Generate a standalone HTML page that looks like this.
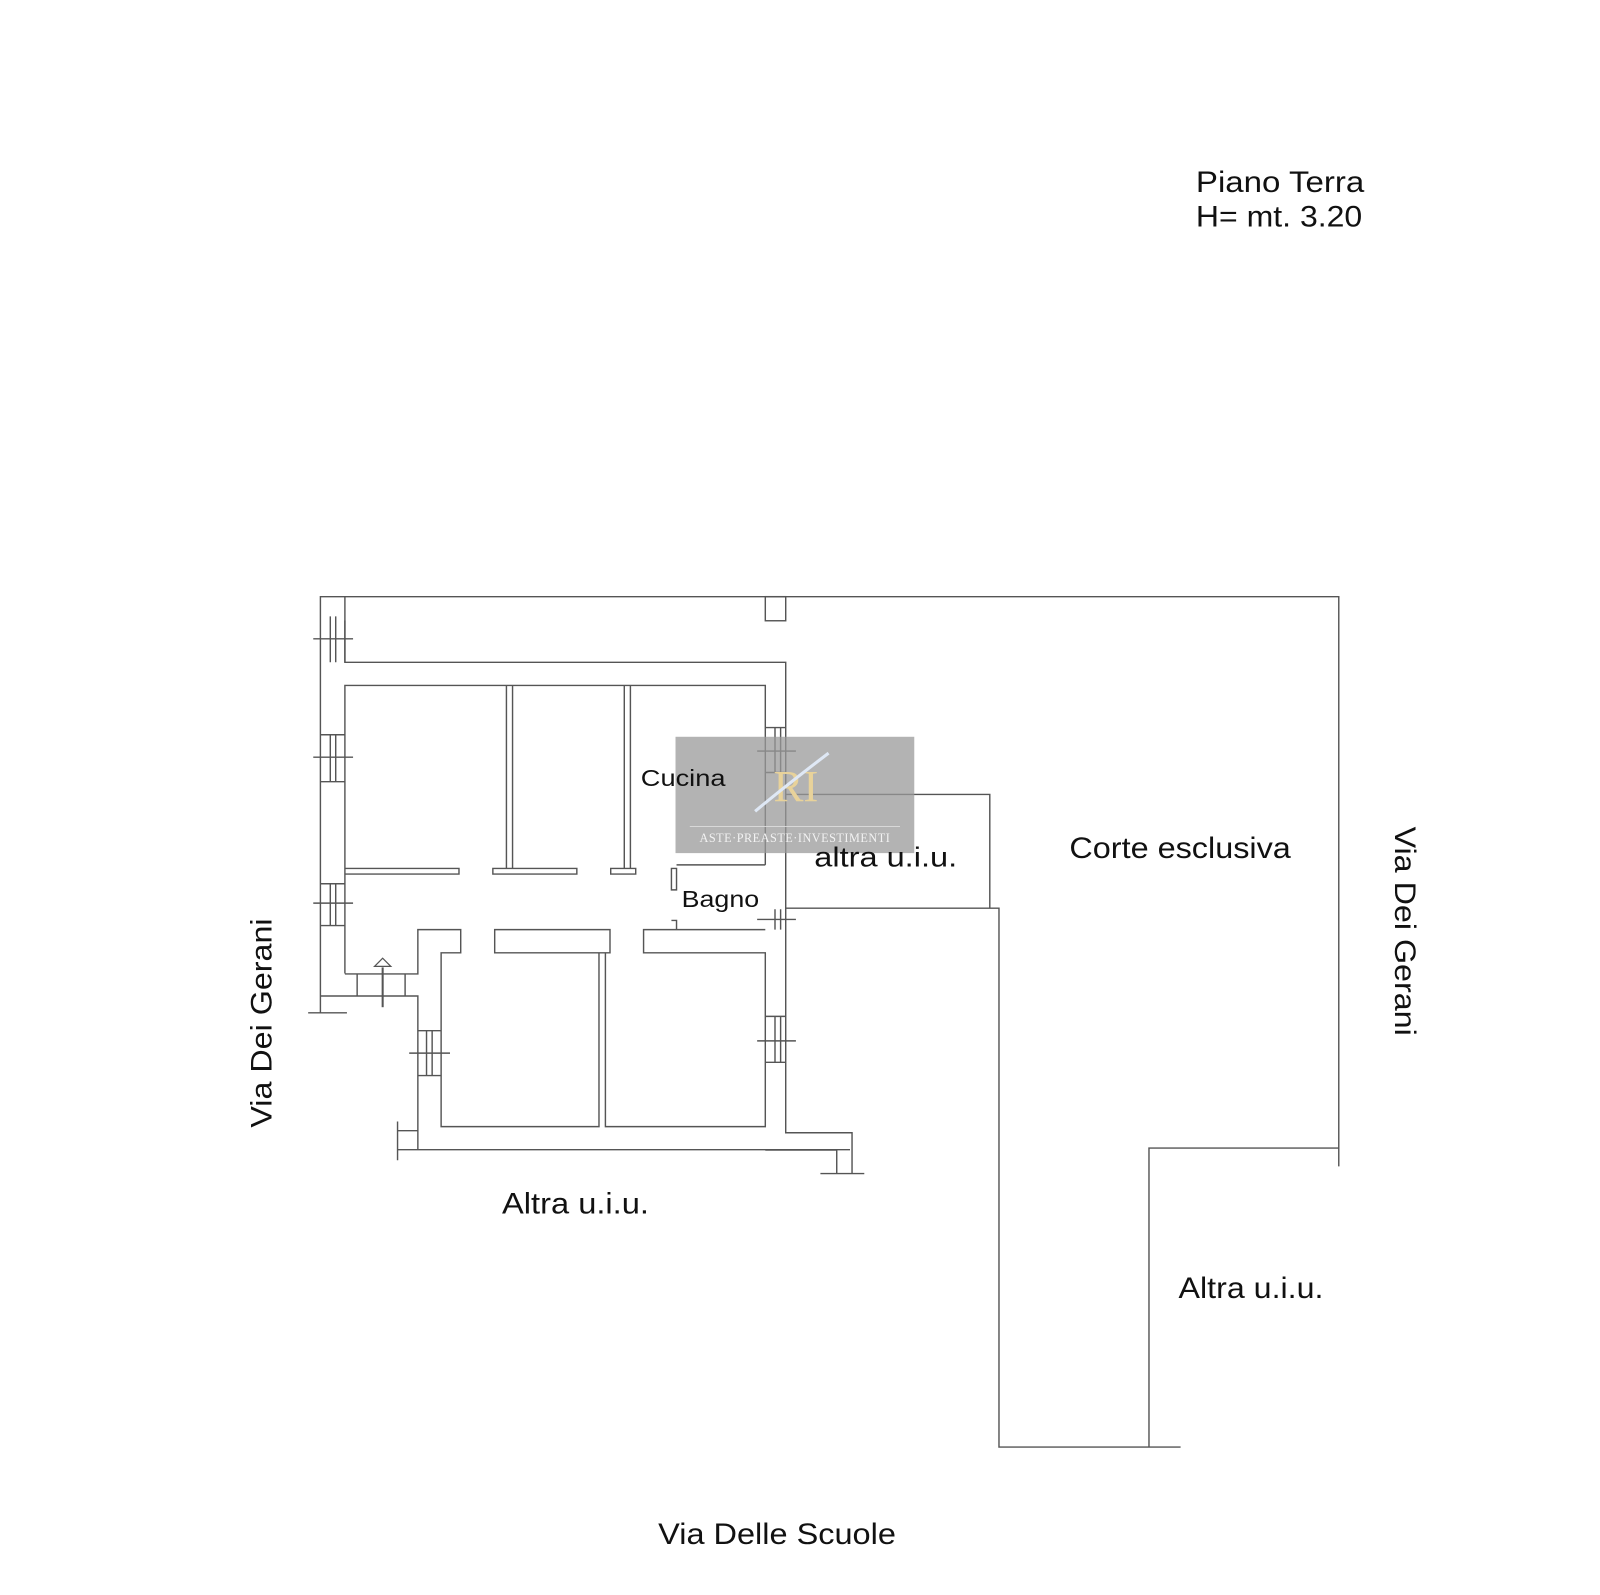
<!DOCTYPE html>
<html><head><meta charset="utf-8"><style>
html,body{margin:0;padding:0;background:#fff;}
svg{display:block;}
text{font-family:"Liberation Sans",sans-serif;fill:#111;}
</style></head><body>
<svg width="1600" height="1595" viewBox="0 0 1568 1563" preserveAspectRatio="none" xmlns="http://www.w3.org/2000/svg">
<rect width="1568" height="1563" fill="#fff"/>
<g fill="none" stroke="#555" stroke-width="1.4">
<path d="M314 992.5 V584.7 H1312 V1143"/>
<path d="M338 608 V649 H770 V1110 H835 V1150"/>
<path d="M750 1127 H820 V1150"/>
<path d="M804 1150 H847"/>
<rect x="750" y="584.7" width="20" height="23.6"/>
<path d="M338 649 V584.7"/>
<path d="M338 954 V671.7 H750 V847.5"/>
<path d="M338 954.4 H409.5 V911 H451.5 V933.7 H432.3 V1104 H587 V933.7"/>
<path d="M314 976 H409.5 V1126.6"/>
<path d="M302 992.5 H340"/>
<path d="M350 954.4 V976 M397 954.4 V976"/>
<path d="M389.6 1099 V1137 M389.6 1108 H409.5 M389.6 1126.6 H833"/>
<path d="M484.8 911 H597.8 V933.7 H484.8 Z"/>
<path d="M593.3 933.7 V1104 H750 V933.7 H630.7 V911 H750"/>
<path d="M496.3 671.7 V851 M502.3 671.7 V851"/>
<path d="M611.8 671.7 V851 M617.8 671.7 V851"/>
<path d="M338 851 H449.8 V856.5 H338"/>
<path d="M483 851 H565.3 V856.5 H483 Z"/>
<path d="M598.5 851 H623 V856.5 H598.5 Z"/>
<path d="M663 847.5 H750 M658 851 H663 V872 H658 Z M658 902 H663 V911"/>
<path d="M770 778.5 H970 V890 M770 890 H979 V1418 H1157"/>
<path d="M1126 1418 V1125 H1312"/>
<path d="M323.7 604 V649 M329 604 V649 M307 626 H346"/>
<path d="M314 720 H338 M314 766 H338 M323.7 720 V766 M329 720 V766 M307 742 H346"/>
<path d="M314 866 H338 M314 907 H338 M323.7 866 V907 M329 866 V907 M307 885 H346"/>
<path d="M750 713 H770 M750 757 H770 M759.5 713 V757 M765 713 V757 M742 736 H780"/>
<path d="M759.5 891 V911 M765 891 V911 M742 901 H780"/>
<path d="M750 996 H770 M750 1041 H770 M759.5 996 V1041 M765 996 V1041 M742 1020 H780"/>
<path d="M409.5 1010 H432.3 M409.5 1054 H432.3 M418 1010 V1054 M423.5 1010 V1054 M401 1032 H441"/>
<path d="M375 948 V987" stroke-width="2"/>
<path d="M367 947 L375 939 L383 947 Z" stroke-width="1.2"/>
</g>
<rect x="662" y="722" width="234" height="114" fill="#999" fill-opacity="0.75"/>
<text x="780" y="785" text-anchor="middle" font-size="44" style="font-family:'Liberation Serif',serif;fill:#e8d29a;">RI</text>
<path d="M740 795 Q770 770 812 738" stroke="#dfe8f5" stroke-width="3" fill="none"/>
<line x1="676" y1="810" x2="882" y2="810" stroke="#ddd" stroke-width="0.8"/>
<text x="779" y="825" text-anchor="middle" font-size="12" style="font-family:'Liberation Serif',serif;fill:#f2f2f2;letter-spacing:0.5px;">ASTE·PREASTE·INVESTIMENTI</text>
<g font-size="29">
<text x="1172" y="188" textLength="165" lengthAdjust="spacingAndGlyphs">Piano Terra</text>
<text x="1172" y="222" textLength="163" lengthAdjust="spacingAndGlyphs">H= mt. 3.20</text>
<text x="628" y="770" font-size="23" textLength="83" lengthAdjust="spacingAndGlyphs">Cucina</text>
<text x="668" y="889" font-size="23" textLength="76" lengthAdjust="spacingAndGlyphs">Bagno</text>
<text x="798" y="849" font-size="27" textLength="140" lengthAdjust="spacingAndGlyphs">altra u.i.u.</text>
<text x="1048" y="841" textLength="217" lengthAdjust="spacingAndGlyphs">Corte esclusiva</text>
<text x="492" y="1189" textLength="144" lengthAdjust="spacingAndGlyphs">Altra u.i.u.</text>
<text x="1155" y="1272" textLength="142" lengthAdjust="spacingAndGlyphs">Altra u.i.u.</text>
<text x="645" y="1513" textLength="233" lengthAdjust="spacingAndGlyphs">Via Delle Scuole</text>
<text transform="translate(266,1105) rotate(-90)" textLength="205" lengthAdjust="spacingAndGlyphs">Via Dei Gerani</text>
<text transform="translate(1367,810) rotate(90)" textLength="205" lengthAdjust="spacingAndGlyphs">Via Dei Gerani</text>
</g>
</svg>
</body></html>
